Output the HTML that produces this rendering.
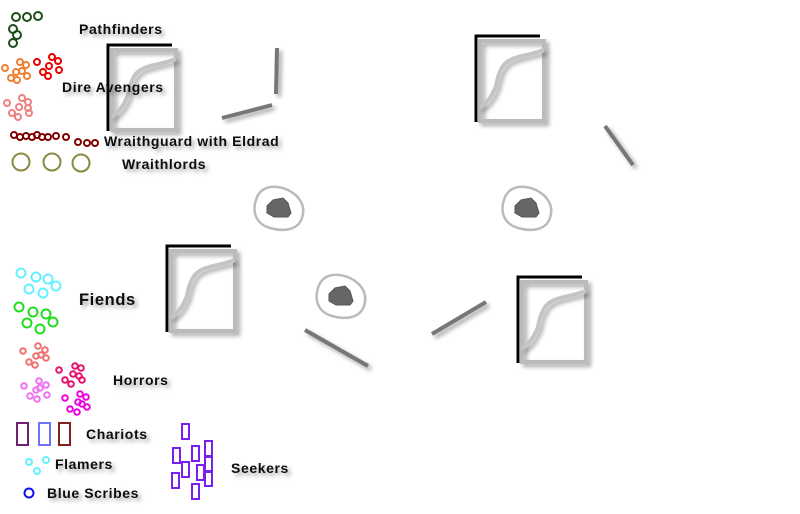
<!DOCTYPE html>
<html><head><style>body{margin:0;background:#fff}svg{display:block}text{font-family:"Liberation Sans",sans-serif;font-weight:bold;fill:#111;letter-spacing:0.6px}</style></head><body>
<svg width="800" height="514" viewBox="0 0 800 514" xmlns="http://www.w3.org/2000/svg">
<defs>
<filter id="sh" x="-20%" y="-20%" width="150%" height="150%"><feDropShadow dx="3" dy="3" stdDeviation="2" flood-color="#000" flood-opacity="0.35"/></filter>
<g id="ruin">
<rect x="4" y="5" width="64" height="80" fill="none" stroke="#bbb" stroke-width="4" filter="url(#sh)"/>
<path d="M4 72 C12 66 16 60 20 50 C24 28 30 24 46 20 C56 18 62 16 68 14" fill="none" stroke="#c4c4c4" stroke-width="4" filter="url(#sh)"/>
<path d="M0 86 V0 H64" fill="none" stroke="#000" stroke-width="3"/>
</g>
<g id="rock">
<path d="M-22 -8 C-18 -22 -4 -24 10 -18 C22 -12 28 -2 24 10 C20 22 6 24 -8 20 C-22 16 -26 4 -22 -8Z" fill="none" stroke="#bbb" stroke-width="2.5"/>
<path d="M-11 -2 L-5 -8 L5 -10 L10 -5 L13 5 L10 9 L-4 9 L-11 5Z" fill="#666" stroke="#555"/>
</g>
</defs>
<use href="#ruin" x="108" y="45"/>
<use href="#ruin" x="476" y="36"/>
<use href="#ruin" x="167" y="246"/>
<use href="#ruin" x="518" y="277"/>
<g stroke="#777" stroke-width="4" filter="url(#sh)">
<line x1="277" y1="48" x2="276" y2="94"/>
<line x1="222" y1="118" x2="272" y2="105"/>
<line x1="605" y1="126" x2="633" y2="165"/>
<line x1="305" y1="330" x2="368" y2="366"/>
<line x1="432" y1="334" x2="486" y2="302"/>
</g>
<use href="#rock" x="278" y="208"/>
<use href="#rock" x="526" y="208"/>
<use href="#rock" x="340" y="296"/>
<g fill="none" stroke-width="2">
<g stroke="#1a4d1a"><circle cx="16" cy="17" r="4"/><circle cx="27" cy="17" r="4"/><circle cx="38" cy="16" r="4"/><circle cx="13" cy="29" r="4"/><circle cx="17" cy="35" r="4"/><circle cx="13" cy="43" r="4"/></g>
<g stroke="#f08030"><circle cx="5" cy="68" r="3"/><circle cx="20" cy="62" r="3"/><circle cx="26" cy="65" r="3"/><circle cx="16" cy="72" r="3"/><circle cx="22" cy="71" r="3"/><circle cx="27" cy="76" r="3"/><circle cx="11" cy="78" r="3"/><circle cx="17" cy="80" r="3"/></g>
<g stroke="#e00"><circle cx="37" cy="62" r="3"/><circle cx="52" cy="57" r="3"/><circle cx="58" cy="61" r="3"/><circle cx="49" cy="66" r="3"/><circle cx="59" cy="70" r="3"/><circle cx="43" cy="72" r="3"/><circle cx="48" cy="76" r="3"/></g>
<g stroke="#f08080"><circle cx="7" cy="103" r="3"/><circle cx="22" cy="98" r="3"/><circle cx="28" cy="102" r="3"/><circle cx="19" cy="107" r="3"/><circle cx="28" cy="108" r="3"/><circle cx="12" cy="113" r="3"/><circle cx="18" cy="117" r="3"/><circle cx="29" cy="113" r="3"/></g>
<g stroke="#800000"><circle cx="14" cy="135" r="3"/><circle cx="20" cy="137" r="3"/><circle cx="26" cy="136" r="3"/><circle cx="32" cy="137" r="3"/><circle cx="37" cy="135" r="3"/><circle cx="42" cy="137" r="3"/><circle cx="48" cy="137" r="3"/><circle cx="56" cy="136" r="3"/><circle cx="66" cy="137" r="3"/><circle cx="78" cy="142" r="3"/><circle cx="87" cy="143" r="3"/><circle cx="95" cy="143" r="3"/></g>
<g stroke="#8a8a40"><circle cx="21" cy="162" r="8.5"/><circle cx="52" cy="162" r="8.5"/><circle cx="81" cy="163" r="8.5"/></g>
<g stroke="#66f0ff"><circle cx="21" cy="273" r="4.5"/><circle cx="36" cy="277" r="4.5"/><circle cx="48" cy="279" r="4.5"/><circle cx="56" cy="286" r="4.5"/><circle cx="29" cy="289" r="4.5"/><circle cx="43" cy="293" r="4.5"/></g>
<g stroke="#22dd22"><circle cx="19" cy="307" r="4.5"/><circle cx="33" cy="312" r="4.5"/><circle cx="46" cy="314" r="4.5"/><circle cx="27" cy="323" r="4.5"/><circle cx="53" cy="322" r="4.5"/><circle cx="40" cy="329" r="4.5"/></g>
<g stroke="#f07070"><circle cx="23" cy="351" r="2.8"/><circle cx="38" cy="346" r="2.8"/><circle cx="45" cy="350" r="2.8"/><circle cx="36" cy="356" r="2.8"/><circle cx="41" cy="355" r="2.8"/><circle cx="46" cy="358" r="2.8"/><circle cx="29" cy="362" r="2.8"/><circle cx="35" cy="365" r="2.8"/></g>
<g stroke="#e8106a"><circle cx="59" cy="370" r="2.8"/><circle cx="75" cy="366" r="2.8"/><circle cx="81" cy="368" r="2.8"/><circle cx="73" cy="374" r="2.8"/><circle cx="79" cy="376" r="2.8"/><circle cx="65" cy="380" r="2.8"/><circle cx="71" cy="384" r="2.8"/><circle cx="82" cy="380" r="2.8"/></g>
<g stroke="#f070f0"><circle cx="24" cy="386" r="2.8"/><circle cx="39" cy="381" r="2.8"/><circle cx="46" cy="385" r="2.8"/><circle cx="36" cy="390" r="2.8"/><circle cx="40" cy="388" r="2.8"/><circle cx="47" cy="395" r="2.8"/><circle cx="30" cy="396" r="2.8"/><circle cx="37" cy="399" r="2.8"/></g>
<g stroke="#ee00dd"><circle cx="65" cy="398" r="2.8"/><circle cx="80" cy="394" r="2.8"/><circle cx="86" cy="397" r="2.8"/><circle cx="78" cy="402" r="2.8"/><circle cx="82" cy="404" r="2.8"/><circle cx="87" cy="407" r="2.8"/><circle cx="70" cy="409" r="2.8"/><circle cx="77" cy="412" r="2.8"/></g>
<rect x="17" y="423" width="11" height="22" stroke="#702070"/>
<rect x="39" y="423" width="11" height="22" stroke="#7070ff"/>
<rect x="59" y="423" width="11" height="22" stroke="#802020"/>
<g stroke="#66f0ff"><circle cx="29" cy="462" r="3"/><circle cx="46" cy="460" r="3"/><circle cx="37" cy="471" r="3"/></g>
<circle cx="29" cy="493" r="4.5" stroke="#1010ee"/>
<g stroke="#7a20ee"><rect x="182" y="424" width="7" height="15"/><rect x="173" y="448" width="7" height="15"/><rect x="192" y="446" width="7" height="15"/><rect x="205" y="441" width="7" height="15"/><rect x="182" y="462" width="7" height="15"/><rect x="197" y="465" width="7" height="15"/><rect x="205" y="457" width="7" height="15"/><rect x="172" y="473" width="7" height="15"/><rect x="192" y="484" width="7" height="15"/><rect x="205" y="471" width="7" height="15"/></g>
</g>
<g filter="url(#sh)" font-size="14">
<text x="79" y="34">Pathfinders</text>
<text x="62" y="92">Dire Avengers</text>
<text x="104" y="146">Wraithguard with Eldrad</text>
<text x="122" y="169">Wraithlords</text>
<text x="79" y="305" font-size="16.5">Fiends</text>
<text x="113" y="385">Horrors</text>
<text x="86" y="439">Chariots</text>
<text x="55" y="469">Flamers</text>
<text x="47" y="498">Blue Scribes</text>
<text x="231" y="473">Seekers</text>
</g>
</svg>
</body></html>
